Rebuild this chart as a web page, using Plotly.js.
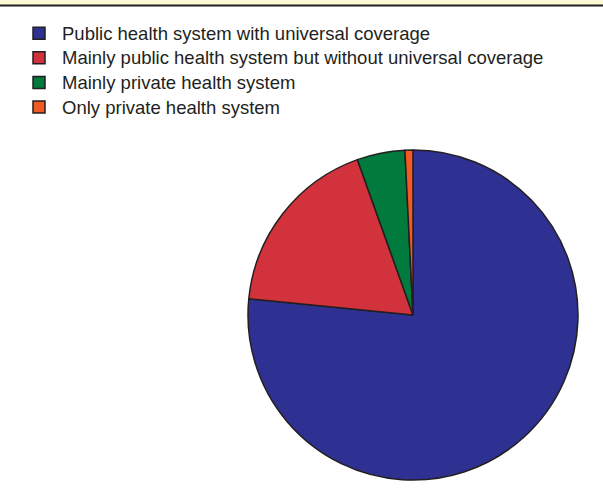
<!DOCTYPE html>
<html>
<head>
<meta charset="utf-8">
<script src="https://cdn.plot.ly/plotly-3.0.1.min.js"></script>
<style>
html,body{margin:0;padding:0;background:#fff;}
#chart{width:603px;height:503px;}
#chart text.legendtext{font-size:18.5px !important;}
#chart .legend, #chart .legend .scrollbox, #chart .legend g{clip-path:none !important;}
</style>
</head>
<body>
<div id="chart"></div>
<script>
const categories = [
  "Public health system with universal coverage",
  "Mainly public health system but without universal coverage",
  "Mainly private health system",
  "Only private health system"
];
const values = [98, 23, 6, 1];
const colors = ["#2e3192", "#d2323c", "#007a3d", "#f15a22"];

const W = 603, H = 503;
const trace = {
  type: "pie",
  labels: categories,
  values: values,
  sort: false,
  direction: "clockwise",
  rotation: 0,
  textinfo: "none",
  hoverinfo: "label+percent",
  marker: {colors: colors, line: {color: "#231f20", width: 1.5}},
  domain: {x: [248 / W, 578 / W], y: [1 - 480 / H, 1 - 150 / H]}
};
const layout = {
  width: W, height: H,
  margin: {l: 0, r: 0, t: 0, b: 0},
  paper_bgcolor: "#ffffff",
  showlegend: true,
  legend: {
    x: 16 / W, y: 1 - 16 / H, xanchor: "left", yanchor: "top",
    font: {family: "Liberation Sans, Arial, sans-serif", size: 16.6, color: "#231f20"},
    tracegroupgap: 0, itemwidth: 36, traceorder: "normal",
    bgcolor: "rgba(0,0,0,0)"
  },
  shapes: [
    {type: "rect", xref: "paper", yref: "paper", x0: 0, x1: 1, y0: 1 - 5 / H, y1: 1,
     fillcolor: "#fdf8d4", line: {width: 0}, layer: "below"},
    {type: "line", xref: "paper", yref: "paper", x0: 0, x1: 1, y0: 1 - 5.5 / H, y1: 1 - 5.5 / H,
     line: {color: "#231f20", width: 2}}
  ]
};
Plotly.newPlot("chart", [trace], layout, {displayModeBar: false, staticPlot: true});
</script>
</body>
</html>
